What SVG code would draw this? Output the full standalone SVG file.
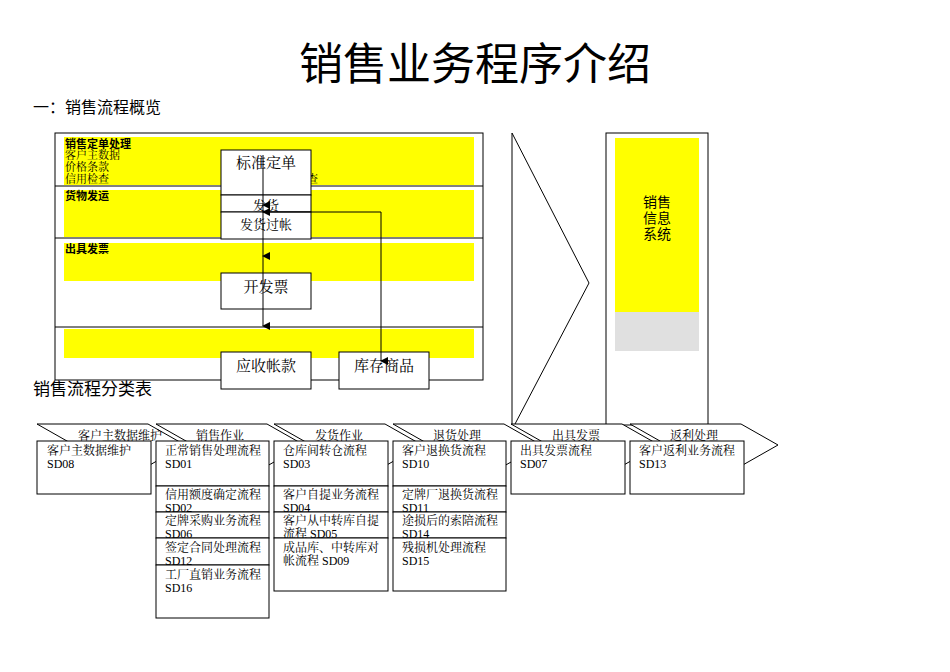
<svg xmlns="http://www.w3.org/2000/svg" width="950" height="672" viewBox="0 0 950 672">
<style>
.s{font-family:"Liberation Sans","Noto Sans CJK SC",sans-serif}
.r{font-family:"Liberation Serif","Noto Serif CJK SC","Noto Sans CJK SC",serif}
.b{fill:#fff;stroke:#000;stroke-width:1}
.y{fill:#ffff00}
.l{stroke:#000;stroke-width:1;fill:none}
.t{font-size:12px}
</style>
<defs><marker id="a" markerWidth="8" markerHeight="8" refX="4" refY="7" orient="auto" markerUnits="userSpaceOnUse"><path d="M0,0L8,0L4,8z" fill="#000"/></marker>
<marker id="a2" viewBox="0 0 8 8" markerWidth="8" markerHeight="8" refX="4" refY="8" orient="auto-start-reverse" markerUnits="userSpaceOnUse"><path d="M0,0L8,4L0,8z" fill="#000"/></marker></defs>
<rect width="950" height="672" fill="#fff"/>
<text class="s" x="475" y="80" font-size="44" text-anchor="middle">销售业务程序介绍</text>
<text class="s" x="33" y="113" font-size="16">一：销售流程概览</text>
<g id="overview">
<rect x="55" y="133" width="428" height="247" class="b"/>
<rect class="y" x="64" y="137" width="410" height="48"/>
<rect class="y" x="64" y="190" width="410" height="47"/>
<rect class="y" x="64" y="243" width="410" height="38"/>
<rect class="y" x="64" y="329" width="410" height="29"/>
<line class="l" x1="55" y1="186" x2="483" y2="186"/>
<line class="l" x1="55" y1="238" x2="483" y2="238"/>
<line class="l" x1="55" y1="327" x2="483" y2="327"/>
<text class="s" x="65" y="148" font-size="11" font-weight="bold">销售定单处理</text>
<text class="r" x="65" y="159" font-size="11">客户主数据</text>
<text class="r" x="65" y="171" font-size="11">价格条款</text>
<text class="r" x="65" y="183" font-size="11">信用检查</text>
<text class="r" x="307" y="183" font-size="11">查</text>
<text class="s" x="65" y="200" font-size="11" font-weight="bold">货物发运</text>
<text class="s" x="65" y="253" font-size="11" font-weight="bold">出具发票</text>
</g>
<g id="n1"><rect x="221" y="150" width="90" height="45" class="b"/><text class="r" x="266" y="168" font-size="15" text-anchor="middle">标准定单</text></g>
<g id="n2"><rect x="221" y="195" width="90" height="17" class="b"/><text class="r" x="266" y="210" font-size="13" text-anchor="middle">发货</text></g>
<g id="n3"><rect x="221" y="212" width="90" height="27" class="b"/><text class="r" x="266" y="229" font-size="13" text-anchor="middle">发货过帐</text></g>
<g id="n4"><rect x="221" y="273" width="90" height="36" class="b"/><text class="r" x="266" y="292" font-size="15" text-anchor="middle">开发票</text></g>
<g id="n5"><rect x="221" y="352" width="90" height="37" class="b"/><text class="r" x="266" y="371" font-size="15" text-anchor="middle">应收帐款</text></g>
<g id="n6"><rect x="339" y="352" width="90" height="37" class="b"/><text class="r" x="384" y="371" font-size="15" text-anchor="middle">库存商品</text></g>
<g id="connectors">
<line class="l" x1="263" y1="155" x2="263" y2="205" marker-end="url(#a)"/>
<line class="l" x1="263" y1="205" x2="263" y2="212" marker-end="url(#a)"/>
<line class="l" x1="263" y1="212" x2="263" y2="256" marker-end="url(#a)"/>
<line class="l" x1="263" y1="256" x2="263" y2="326" marker-end="url(#a)"/>
<polyline class="l" points="263,212 381,212 381,361" marker-end="url(#a)"/>
</g>
<g id="chevron"><polyline class="l" points="512,133 589,283 515,424"/><line class="l" x1="512" y1="133" x2="512" y2="425"/></g>
<g id="system">
<rect x="606" y="133" width="102" height="292" class="b"/>
<rect class="y" x="615" y="138" width="84" height="174"/>
<rect x="615" y="312" width="84" height="39" fill="#e0e0e0"/>
<text class="s" x="657" y="207" font-size="14" text-anchor="middle">销售</text>
<text class="s" x="657" y="223" font-size="14" text-anchor="middle">信息</text>
<text class="s" x="657" y="239" font-size="14" text-anchor="middle">系统</text>
</g>
<text class="s" x="33" y="395" font-size="17">销售流程分类表</text>
<g id="headers" class="r t">
<polygon class="b" points="37,424 148,424 185,445 148,466 37,466 74,445"/>
<text x="120" y="440" text-anchor="middle">客户主数据维护</text>
<polygon class="b" points="156,424 267,424 304,445 267,466 156,466 193,445"/>
<text x="220" y="440" text-anchor="middle">销售作业</text>
<polygon class="b" points="274,424 385,424 422,445 385,466 274,466 311,445"/>
<text x="339" y="440" text-anchor="middle">发货作业</text>
<polygon class="b" points="393,424 504,424 541,445 504,466 393,466 430,445"/>
<text x="457" y="440" text-anchor="middle">退货处理</text>
<polygon class="b" points="511,424 622,424 659,445 622,466 511,466 548,445"/>
<text x="576" y="440" text-anchor="middle">出具发票</text>
<polygon class="b" points="630,424 741,424 778,445 741,466 630,466 667,445"/>
<text x="694" y="440" text-anchor="middle">返利处理</text>
</g>
<g id="c1" class="r t"><rect class="b" x="37" y="441" width="114" height="53"/><text x="47" y="455">客户主数据维护</text><text x="47" y="468">SD08</text></g>
<g id="c2" class="r t">
<rect class="b" x="156" y="441" width="113" height="45"/><text x="165" y="455">正常销售处理流程</text><text x="165" y="468">SD01</text>
<rect class="b" x="156" y="486" width="113" height="26"/><text x="165" y="499">信用额度确定流程</text><text x="165" y="512">SD02</text>
<rect class="b" x="156" y="512" width="113" height="26"/><text x="165" y="525">定牌采购业务流程</text><text x="165" y="538">SD06</text>
<rect class="b" x="156" y="538" width="113" height="27"/><text x="165" y="552">签定合同处理流程</text><text x="165" y="565">SD12</text>
<rect class="b" x="156" y="565" width="113" height="53"/><text x="165" y="579">工厂直销业务流程</text><text x="165" y="592">SD16</text>
</g>
<g id="c3" class="r t">
<rect class="b" x="274" y="441" width="114" height="45"/><text x="283" y="455">仓库间转仓流程</text><text x="283" y="468">SD03</text>
<rect class="b" x="274" y="486" width="114" height="26"/><text x="283" y="499">客户自提业务流程</text><text x="283" y="512">SD04</text>
<rect class="b" x="274" y="512" width="114" height="26"/><text x="283" y="525">客户从中转库自提</text><text x="283" y="538">流程 SD05</text>
<rect class="b" x="274" y="538" width="114" height="53"/><text x="283" y="552">成品库、中转库对</text><text x="283" y="565">帐流程 SD09</text>
</g>
<g id="c4" class="r t">
<rect class="b" x="393" y="441" width="113" height="45"/><text x="402" y="455">客户退换货流程</text><text x="402" y="468">SD10</text>
<rect class="b" x="393" y="486" width="113" height="26"/><text x="402" y="499">定牌厂退换货流程</text><text x="402" y="512">SD11</text>
<rect class="b" x="393" y="512" width="113" height="26"/><text x="402" y="525">途损后的索陪流程</text><text x="402" y="538">SD14</text>
<rect class="b" x="393" y="538" width="113" height="53"/><text x="402" y="552">残损机处理流程</text><text x="402" y="565">SD15</text>
</g>
<g id="c5" class="r t"><rect class="b" x="511" y="441" width="114" height="53"/><text x="520" y="455">出具发票流程</text><text x="520" y="468">SD07</text></g>
<g id="c6" class="r t"><rect class="b" x="630" y="441" width="114" height="53"/><text x="639" y="455">客户返利业务流程</text><text x="639" y="468">SD13</text></g>
</svg>
